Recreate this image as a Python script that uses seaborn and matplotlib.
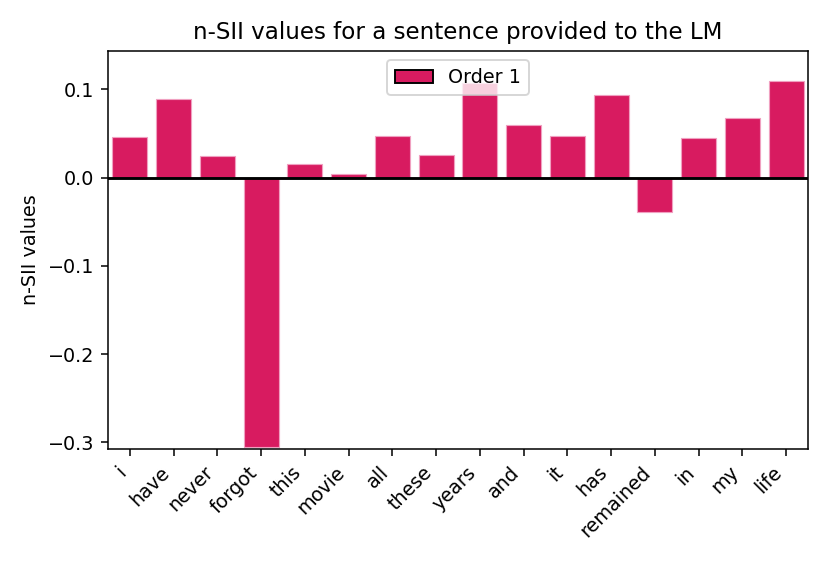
import matplotlib
matplotlib.use("Agg")
import matplotlib.pyplot as plt
import seaborn as sns
import pandas as pd
from matplotlib.patches import Patch

words = ["i", "have", "never", "forgot", "this", "movie", "all", "these",
         "years", "and", "it", "has", "remained", "in", "my", "life"]
order1 = [0.0458, 0.0889, 0.0243, -0.3057, 0.0152, 0.0045, 0.0473, 0.0257,
          0.1070, 0.0594, 0.0476, 0.0938, -0.0385, 0.0447, 0.0673, 0.1100]

bar_color = "#D81B60"

df = pd.DataFrame({"word": words, "value": order1})
df["pos"] = range(len(words))

dpi = 138
fig, ax = plt.subplots(figsize=(830 / dpi, 574 / dpi), dpi=dpi)
fig.subplots_adjust(left=0.13, right=0.9735, top=0.9117, bottom=0.2172)

sns.barplot(data=df, x="pos", y="value", color=bar_color, saturation=1,
            width=0.8, edgecolor="#f0a0c0", linewidth=0.6, ax=ax)
ax.axhline(0, color="black", linewidth=1.5)

ax.set_xticks(range(len(words)))
ax.set_xticklabels(words, rotation=45, ha="right")
ax.set_xlim(-0.5, len(words) - 0.5)
ax.set_ylim(-0.308, 0.144)
ax.set_xlabel("")
ax.set_ylabel("n-SII values")
ax.set_title("n-SII values for a sentence provided to the LM")

handles = [Patch(facecolor=bar_color, edgecolor="black", label="Order 1")]
ax.legend(handles=handles, loc="upper center")

fig.savefig("out.png", dpi=dpi)
